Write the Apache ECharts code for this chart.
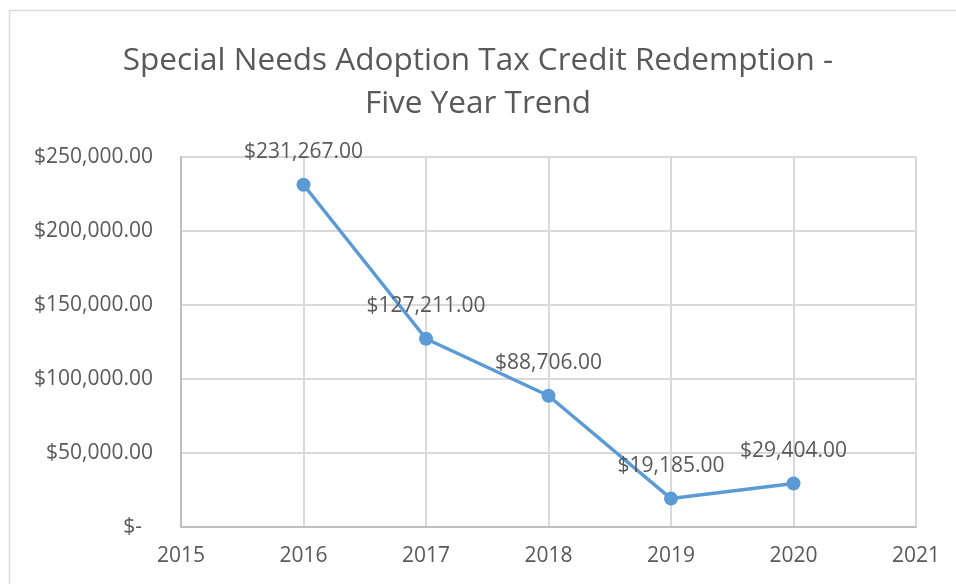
<!DOCTYPE html>
<html>
<head>
<meta charset="utf-8">
<script src="https://cdn.jsdelivr.net/npm/echarts@6/dist/echarts.min.js"></script>
<style>
  html, body { margin: 0; padding: 0; background: #fff; }
  #chart { width: 956px; height: 584px; }
</style>
</head>
<body>
<div id="chart"></div>
<script>
// data
const years = [2016, 2017, 2018, 2019, 2020]
const redemptions = [231267, 127211, 88706, 19185, 29404]
const yTicks = [0, 50000, 100000, 150000, 200000, 250000]

const money = v => '$' + v.toLocaleString('en-US', { minimumFractionDigits: 2, maximumFractionDigits: 2 })

const chart = echarts.init(document.getElementById('chart'))

const option = {
  animation: false,
  textStyle: { fontFamily: 'Open Sans' },
  graphic: [
    {
      type: 'rect',
      shape: { x: 9.5, y: 10.5, width: 1000, height: 1000 },
      style: { fill: 'none', stroke: '#d9d9d9', lineWidth: 1.5 },
      silent: true
    }
  ],
  title: {
    text: 'Special Needs Adoption Tax Credit Redemption -\nFive Year Trend',
    left: 'center',
    top: 35,
    textStyle: {
      fontFamily: 'Open Sans',
      fontWeight: 'normal',
      fontSize: 31.5,
      lineHeight: 43,
      color: '#595959'
    }
  },
  grid: {
    left: 181,
    right: 40,
    top: 157,
    bottom: 57,
    containLabel: false
  },
  xAxis: {
    type: 'value',
    min: 2015,
    max: 2021,
    interval: 1,
    axisLine: { show: true, lineStyle: { color: '#bfbfbf', width: 2 } },
    axisTick: { show: false },
    splitLine: { show: true, lineStyle: { color: '#d9d9d9', width: 2 } },
    axisLabel: {
      color: '#595959',
      fontSize: 21,
      margin: 19,
      formatter: v => String(v)
    }
  },
  yAxis: {
    type: 'value',
    min: yTicks[0],
    max: yTicks[yTicks.length - 1],
    interval: 50000,
    axisLine: { show: true, lineStyle: { color: '#bfbfbf', width: 2 } },
    axisTick: { show: false },
    splitLine: { show: true, lineStyle: { color: '#d9d9d9', width: 2 } },
    axisLabel: {
      color: '#595959',
      fontSize: 21,
      margin: 28,
      formatter: v => v === 0 ? '{z|$-}' : money(v),
      rich: {
        z: { fontSize: 21, color: '#595959', padding: [0, 11, 0, 0] }
      }
    }
  },
  series: [
    {
      type: 'line',
      data: years.map((y, i) => [y, redemptions[i]]),
      symbol: 'circle',
      symbolSize: 14,
      lineStyle: { color: '#5b9bd5', width: 3.5 },
      itemStyle: { color: '#5b9bd5' },
      label: {
        show: true,
        position: 'top',
        distance: 15,
        color: '#595959',
        fontSize: 21,
        formatter: p => money(p.value[1])
      }
    }
  ]
}

chart.setOption(option)
</script>
</body>
</html>
